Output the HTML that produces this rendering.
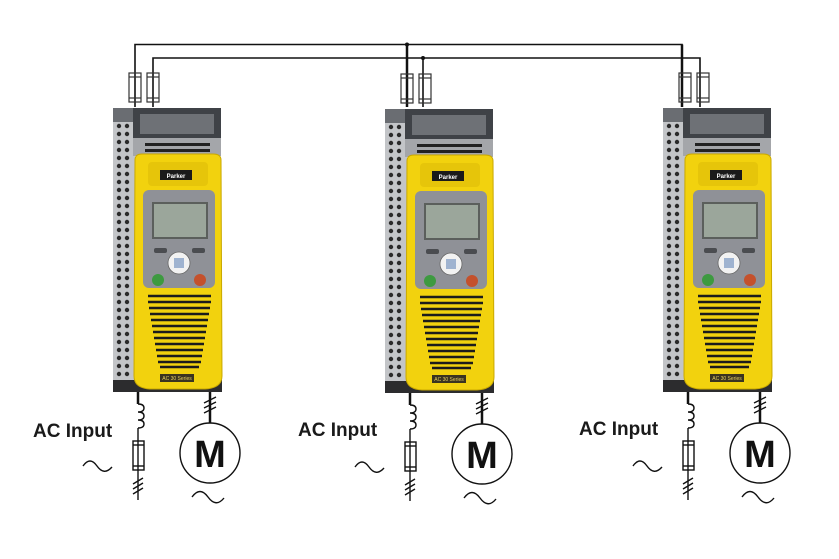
<!DOCTYPE html>
<html><head><meta charset="utf-8"><style>
html,body{margin:0;padding:0;background:#fff;}
svg{display:block;}
text{font-family:"Liberation Sans",Arial,sans-serif;}
</style></head><body>
<svg width="839" height="559" viewBox="0 0 839 559" xmlns="http://www.w3.org/2000/svg">
<!-- bus wires -->
<g stroke="#111" stroke-width="1.6" fill="none">
<polyline points="135,107 135,44.5 682,44.5 682,107"/>
<polyline points="153,107 153,58 700,58 700,107"/>
<line x1="407" y1="44.5" x2="407" y2="107" stroke-width="2.5"/>
<line x1="423" y1="58" x2="423" y2="107"/>
<line x1="682" y1="44.5" x2="682" y2="107" stroke-width="2.5"/>
</g>
<circle cx="407" cy="44.5" r="2" fill="#111"/><circle cx="423" cy="58" r="2" fill="#111"/>

<g id="drive">
<g fill="none" stroke="#333" stroke-width="1.2">
<rect x="129" y="73" width="12" height="29"/><line x1="129" y1="98" x2="141" y2="98"/><line x1="129" y1="77" x2="141" y2="77"/>
<rect x="147" y="73" width="12" height="29"/><line x1="147" y1="98" x2="159" y2="98"/><line x1="147" y1="77" x2="159" y2="77"/>
</g>
<rect x="113" y="108" width="22" height="284" fill="#c3c5c8"/>
<rect x="113" y="108" width="22" height="14" fill="#6a6d72"/>
<g fill="#2a2a2a">
<circle cx="119" cy="126" r="2.2"/><circle cx="127" cy="126" r="2.2"/>
<circle cx="119" cy="134" r="2.2"/><circle cx="127" cy="134" r="2.2"/>
<circle cx="119" cy="142" r="2.2"/><circle cx="127" cy="142" r="2.2"/>
<circle cx="119" cy="150" r="2.2"/><circle cx="127" cy="150" r="2.2"/>
<circle cx="119" cy="158" r="2.2"/><circle cx="127" cy="158" r="2.2"/>
<circle cx="119" cy="166" r="2.2"/><circle cx="127" cy="166" r="2.2"/>
<circle cx="119" cy="174" r="2.2"/><circle cx="127" cy="174" r="2.2"/>
<circle cx="119" cy="182" r="2.2"/><circle cx="127" cy="182" r="2.2"/>
<circle cx="119" cy="190" r="2.2"/><circle cx="127" cy="190" r="2.2"/>
<circle cx="119" cy="198" r="2.2"/><circle cx="127" cy="198" r="2.2"/>
<circle cx="119" cy="206" r="2.2"/><circle cx="127" cy="206" r="2.2"/>
<circle cx="119" cy="214" r="2.2"/><circle cx="127" cy="214" r="2.2"/>
<circle cx="119" cy="222" r="2.2"/><circle cx="127" cy="222" r="2.2"/>
<circle cx="119" cy="230" r="2.2"/><circle cx="127" cy="230" r="2.2"/>
<circle cx="119" cy="238" r="2.2"/><circle cx="127" cy="238" r="2.2"/>
<circle cx="119" cy="246" r="2.2"/><circle cx="127" cy="246" r="2.2"/>
<circle cx="119" cy="254" r="2.2"/><circle cx="127" cy="254" r="2.2"/>
<circle cx="119" cy="262" r="2.2"/><circle cx="127" cy="262" r="2.2"/>
<circle cx="119" cy="270" r="2.2"/><circle cx="127" cy="270" r="2.2"/>
<circle cx="119" cy="278" r="2.2"/><circle cx="127" cy="278" r="2.2"/>
<circle cx="119" cy="286" r="2.2"/><circle cx="127" cy="286" r="2.2"/>
<circle cx="119" cy="294" r="2.2"/><circle cx="127" cy="294" r="2.2"/>
<circle cx="119" cy="302" r="2.2"/><circle cx="127" cy="302" r="2.2"/>
<circle cx="119" cy="310" r="2.2"/><circle cx="127" cy="310" r="2.2"/>
<circle cx="119" cy="318" r="2.2"/><circle cx="127" cy="318" r="2.2"/>
<circle cx="119" cy="326" r="2.2"/><circle cx="127" cy="326" r="2.2"/>
<circle cx="119" cy="334" r="2.2"/><circle cx="127" cy="334" r="2.2"/>
<circle cx="119" cy="342" r="2.2"/><circle cx="127" cy="342" r="2.2"/>
<circle cx="119" cy="350" r="2.2"/><circle cx="127" cy="350" r="2.2"/>
<circle cx="119" cy="358" r="2.2"/><circle cx="127" cy="358" r="2.2"/>
<circle cx="119" cy="366" r="2.2"/><circle cx="127" cy="366" r="2.2"/>
<circle cx="119" cy="374" r="2.2"/><circle cx="127" cy="374" r="2.2"/>
</g>
<rect x="133" y="108" width="88" height="30" fill="#3f4247"/>
<rect x="140" y="114" width="74" height="20" fill="#6e7176"/>
<rect x="133" y="138" width="88" height="18" fill="#a4a6aa"/>
<rect x="145" y="143" width="65" height="3" fill="#222"/>
<rect x="145" y="149" width="65" height="3" fill="#222"/>
<rect x="113" y="380" width="109" height="12" fill="#2c2c2e"/>
<path d="M135,160 Q135,154 142,154 L213,154 Q221,154 221,160 L222,376 Q222,388 205,389 L150,389 Q134,388 134,376 Z" fill="#f2d20e" stroke="#c9a800" stroke-width="1"/>
<rect x="148" y="162" width="60" height="24" rx="4" fill="#e6c50a"/>
<rect x="160" y="170" width="32" height="10" fill="#1a1a1a"/>
<rect x="143" y="190" width="72" height="98" rx="6" fill="#8f9197"/>
<rect x="152" y="202" width="56" height="37" fill="#5b5f5c"/>
<rect x="154" y="204" width="52" height="33" fill="#9ba69b"/>
<rect x="154" y="248" width="13" height="5" rx="2" fill="#4a4c50"/>
<rect x="192" y="248" width="13" height="5" rx="2" fill="#4a4c50"/>
<circle cx="179" cy="263" r="11" fill="#f2f2f2" stroke="#666" stroke-width="0.8"/>
<rect x="174" y="258" width="10" height="10" fill="#9fb3d0"/>
<circle cx="158" cy="280" r="6" fill="#3d9a40"/>
<circle cx="200" cy="280" r="6" fill="#c4512c"/>
<g stroke="#1c1c1c" stroke-width="2.6">
<line x1="148" y1="296" x2="211" y2="296"/>
<line x1="148" y1="302" x2="211" y2="302"/>
<line x1="149" y1="308" x2="210" y2="308"/>
<line x1="150" y1="314" x2="209" y2="314"/>
<line x1="151" y1="320" x2="208" y2="320"/>
<line x1="152" y1="326" x2="207" y2="326"/>
<line x1="153" y1="332" x2="206" y2="332"/>
<line x1="154" y1="338" x2="205" y2="338"/>
<line x1="155" y1="344" x2="204" y2="344"/>
<line x1="156" y1="350" x2="203" y2="350"/>
<line x1="157" y1="356" x2="202" y2="356"/>
<line x1="158" y1="362" x2="201" y2="362"/>
<line x1="160" y1="367" x2="199" y2="367"/>
</g>
<rect x="160" y="374" width="34" height="8" fill="#3a3420"/>
<g stroke="#111" fill="none" stroke-width="1.4">
<line x1="138" y1="392" x2="138" y2="404" stroke-width="2.5"/>
<path d="M138,404 q6,0 6,4 q0,4 -6,4 q6,0 6,4 q0,4 -6,4 q6,0 6,4 q0,4 -6,4"/>
<line x1="138" y1="428" x2="138" y2="500"/>
<rect x="133" y="441" width="11" height="29"/>
<line x1="133" y1="466" x2="144" y2="466"/><line x1="133" y1="445" x2="144" y2="445"/>
<line x1="133" y1="484" x2="143" y2="478"/><line x1="133" y1="489" x2="143" y2="483"/><line x1="133" y1="494" x2="143" y2="488"/>
<path d="M83,466 q7,-10 14,0 q7,10 15,1"/>
<line x1="210" y1="392" x2="210" y2="423" stroke-width="2.5"/>
<line x1="204" y1="403" x2="216" y2="397"/><line x1="204" y1="408" x2="216" y2="402"/><line x1="204" y1="413" x2="216" y2="407"/>
<circle cx="210" cy="453" r="30"/>
<path d="M192,497 q8,-11 16,0 q8,11 16,1"/>
</g>
<text x="210" y="467" font-size="38" font-weight="bold" text-anchor="middle" fill="#111">M</text>
</g>
<use href="#drive" transform="translate(272,1)"/>
<use href="#drive" transform="translate(550,0)"/>

<g font-size="6" font-weight="bold" fill="#fff" text-anchor="middle">
<text x="176" y="178">Parker</text><text x="448" y="179">Parker</text><text x="726" y="178">Parker</text>
</g>
<g font-size="5" fill="#e8d060" text-anchor="middle">
<text x="177" y="380">AC 30 Series</text><text x="449" y="381">AC 30 Series</text><text x="727" y="380">AC 30 Series</text>
</g>
<g font-size="19" font-weight="bold" fill="#1a1a1a">
<text x="33" y="437">AC Input</text>
<text x="298" y="436">AC Input</text>
<text x="579" y="435">AC Input</text>
</g>
</svg>
</body></html>
